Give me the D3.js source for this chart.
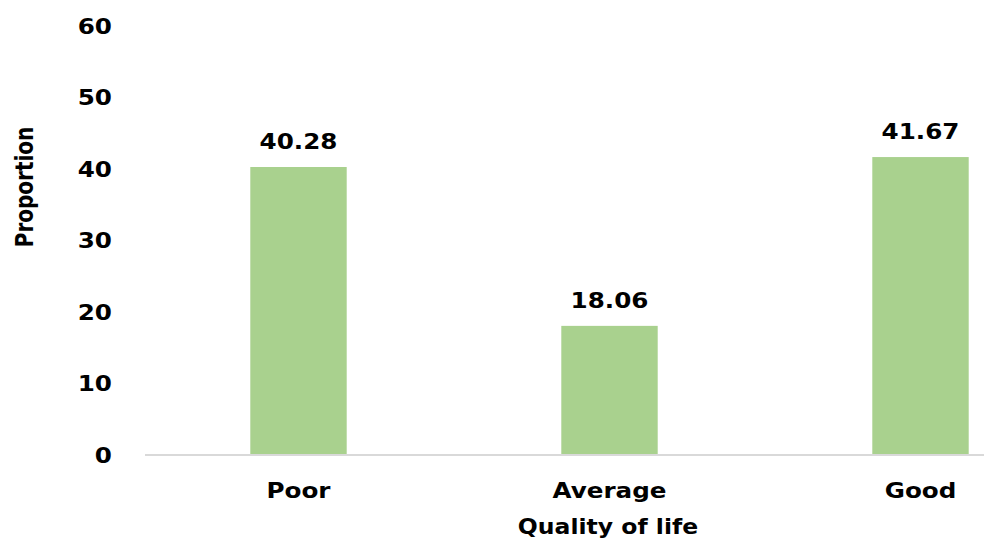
<!DOCTYPE html>
<html>
<head>
<meta charset="utf-8">
<script src="https://cdn.jsdelivr.net/npm/d3@7"></script>
<style>
body { margin: 0; background: #fff; }
text { font-family: "DejaVu Sans", sans-serif; font-weight: bold; fill: #000; }
</style>
</head>
<body>
<div id="chart"></div>
<script>
// data
var categories = ["Poor", "Average", "Good"];
var values = [40.28, 18.06, 41.67];
var yTicks = [0, 10, 20, 30, 40, 50, 60];

var w = 984, h = 544;

var svg = d3.select("#chart")
    .append("svg")
    .attr("width", w)
    .attr("height", h);

// scales
var x = d3.scaleBand()
    .domain(categories)
    .range([143, 1076])
    .paddingInner(0.69)
    .paddingOuter(0.345);

var y = d3.scaleLinear()
    .domain([0, 60])
    .range([455, 26]);

var sx = 1.12; // text looks horizontally stretched

// y tick labels
svg.append("g")
    .selectAll("text")
    .data(yTicks)
    .enter()
    .append("text")
    .attr("transform", function(d) { return "translate(112," + y(d) + ") scale(" + sx + ",1)"; })
    .attr("text-anchor", "end")
    .attr("dy", "0.36em")
    .style("font-size", "22px")
    .text(function(d) { return d; });

// bars
svg.append("g")
    .selectAll("rect")
    .data(values)
    .enter()
    .append("rect")
    .attr("x", function(d, i) { return x(categories[i]); })
    .attr("y", function(d) { return y(d); })
    .attr("width", x.bandwidth())
    .attr("height", function(d) { return y(0) - y(d); })
    .attr("fill", "#a9d18e");

// baseline
svg.append("line")
    .attr("x1", 145).attr("x2", w)
    .attr("y1", y(0)).attr("y2", y(0))
    .attr("stroke", "#d9d9d9")
    .attr("stroke-width", 2);

// value labels
svg.append("g")
    .selectAll("text")
    .data(values)
    .enter()
    .append("text")
    .attr("transform", function(d, i) {
        return "translate(" + (x(categories[i]) + x.bandwidth() / 2) + "," + (y(d) - 18) + ") scale(" + sx + ",1)";
    })
    .attr("text-anchor", "middle")
    .style("font-size", "22px")
    .text(function(d) { return d.toFixed(2); });

// category labels
svg.append("g")
    .selectAll("text")
    .data(categories)
    .enter()
    .append("text")
    .attr("transform", function(d) {
        return "translate(" + (x(d) + x.bandwidth() / 2) + ",498) scale(" + sx + ",1)";
    })
    .attr("text-anchor", "middle")
    .style("font-size", "22px")
    .text(function(d) { return d; });

// axis titles
svg.append("text")
    .attr("transform", "translate(608,534) scale(" + sx + ",1)")
    .attr("text-anchor", "middle")
    .style("font-size", "21px")
    .text("Quality of life");

svg.append("text")
    .attr("transform", "translate(33,187) scale(1.25,1) rotate(-90)")
    .attr("text-anchor", "middle")
    .style("font-size", "20px")
    .text("Proportion");
</script>
</body>
</html>
